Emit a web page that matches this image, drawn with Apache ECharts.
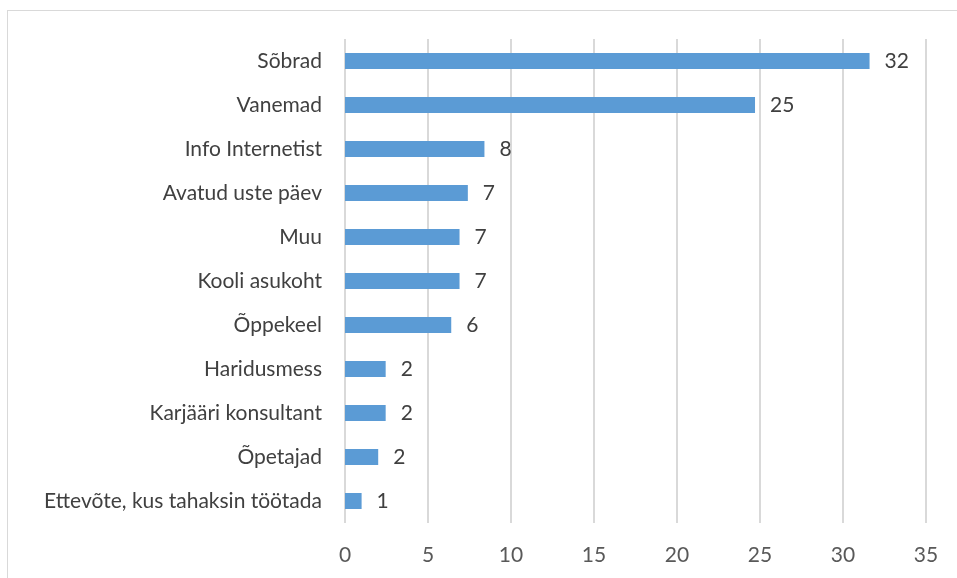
<!DOCTYPE html>
<html>
<head>
<meta charset="utf-8">
<script src="https://cdn.jsdelivr.net/npm/echarts@6/dist/echarts.min.js"></script>
<style>
  html, body { margin: 0; padding: 0; background: #fff; }
  #chart { width: 957px; height: 578px; }
  #frame { position: absolute; left: 7px; top: 10px; width: 980px; height: 600px;
           border: 1.5px solid #d9d9d9; box-sizing: border-box; pointer-events: none; }
</style>
</head>
<body>
<div id="chart"></div>
<div id="frame"></div>
<script>
// kategooriad ülevalt alla
const categories = [
  'Sõbrad', 'Vanemad', 'Info Internetist', 'Avatud uste päev', 'Muu',
  'Kooli asukoht', 'Õppekeel', 'Haridusmess', 'Karjääri konsultant',
  'Õpetajad', 'Ettevõte, kus tahaksin töötada'
]
// tulba pikkused (sildid on ümardatud)
const values = [31.6, 24.7, 8.4, 7.4, 6.9, 6.9, 6.4, 2.45, 2.45, 2.0, 1.0]
const xTicks = [0, 5, 10, 15, 20, 25, 30, 35]

const chart = echarts.init(document.getElementById('chart'))
chart.setOption({
  animation: false,
  textStyle: { fontFamily: 'Lato' },
  grid: { left: 345, right: 31, top: 39, bottom: 55, containLabel: false },
  xAxis: {
    type: 'value',
    min: xTicks[0],
    max: xTicks[xTicks.length - 1],
    interval: 5,
    axisLine: { show: false },
    axisTick: { show: false },
    axisLabel: { color: '#595959', fontSize: 21, margin: 22 },
    splitLine: { lineStyle: { color: '#d9d9d9', width: 2 } },
  },
  yAxis: {
    type: 'category',
    inverse: true,
    data: categories,
    axisLine: { show: false },
    axisTick: { show: false },
    axisLabel: { color: '#404040', fontSize: 21, margin: 23 },
  },
  series: [{
    type: 'bar',
    data: values,
    barWidth: 16,
    itemStyle: { color: '#5b9bd5' },
    label: {
      show: true,
      position: 'right',
      distance: 15,
      color: '#404040',
      fontSize: 21,
      formatter: p => Math.round(p.value),
    },
  }],
})
</script>
</body>
</html>
